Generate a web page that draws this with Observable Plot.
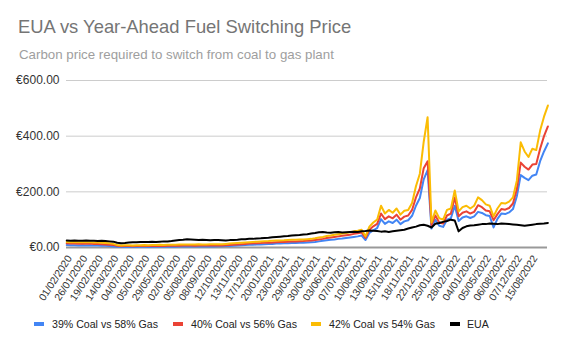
<!DOCTYPE html>
<html>
<head>
<meta charset="utf-8">
<script src="https://cdn.jsdelivr.net/npm/d3@7"></script>
<script src="https://cdn.jsdelivr.net/npm/@observablehq/plot@0.6"></script>
<style>
  html, body { margin: 0; padding: 0; background: #fff; }
  #wrap { position: relative; width: 565px; height: 349px; font-family: "Liberation Sans", Arial, sans-serif; overflow: hidden; }
  .title { position: absolute; left: 18px; top: 18px; font-size: 18.4px; line-height: 1; color: #757575; white-space: nowrap; }
  .subtitle { position: absolute; left: 19px; top: 48px; font-size: 13.3px; line-height: 1; color: #9e9e9e; white-space: nowrap; }
  #chart { position: absolute; left: 0; top: 60px; }
  .leg { position: absolute; top: 318px; font-size: 10.6px; line-height: 12px; color: #222; white-space: nowrap; }
  .sw { position: absolute; top: 322px; width: 10px; height: 4px; }
</style>
</head>
<body>
<div id="wrap">
  <div class="title">EUA vs Year-Ahead Fuel Switching Price</div>
  <div class="subtitle">Carbon price required to switch from coal to gas plant</div>
  <div id="chart"></div>
  <div id="legend"></div>
</div>
<script>
// Category tick labels (as shown on the axis)
const xLabels = ["01/02/2020","26/01/2020","19/02/2020","14/03/2020","04/07/2020","05/01/2020","29/05/2020","02/07/2020","05/08/2020","08/09/2020","12/10/2020","13/11/2020","17/12/2020","20/01/2021","23/02/2021","29/03/2021","30/04/2021","03/06/2021","07/07/2021","10/08/2021","13/09/2021","15/10/2021","18/11/2021","22/12/2021","25/01/2022","28/02/2022","04/01/2022","05/05/2022","06/08/2022","07/12/2022","15/08/2022"];

const seriesNames = ["39% Coal vs 58% Gas","40% Coal vs 56% Gas","42% Coal vs 54% Gas","EUA"];
const seriesColors = ["#4285f4","#ea4335","#fbbc04","#000000"];

// values, 4 observations per label interval
const coal39 = [
  9,8,8.5,7.5, 8,7.5,8,7, 7,6.5,6,5, 4,2.5,1.5,2, 2,1.5,2,2.5, 2.5,2,2.5,2.5, 3,2.5,3,3, 3,3.5,4,4,
  4,3.5,4,4, 4,4.5,4,4.5, 4.5,5,5.5,6, 7,8,9,9.5, 10,10.5,11,12, 12.5,13,14,14.5, 15,15.5,16,16.5, 17,17.5,18,19,
  20,22,24,26, 28,29,31,32, 34,36,38,40, 43,27,52,62, 70,102,85,94, 88,100,84,94, 98,114,150,178, 245,278,68,100,
  78,74,100,105, 150,95,108,112, 106,112,128,124, 116,113,72,103, 122,120,126,138, 184,260,250,242, 258,262,310,345,374
];
const coal40 = [
  15,14,14.5,13.5, 14,13.5,14,13, 13,12,11,10, 9,6,4.5,5, 5,4.5,5,5.5, 5.5,5,5.5,5.5, 6,5.5,6,6, 6,6.5,7,7,
  7,6.5,7,7, 7,7.5,7,7.5, 7.5,8,9,10, 11,12,13,14, 15,15.5,16,17, 17.5,18,19,19.5, 20,21,21.5,22, 22.5,23,24,25,
  27,29,31,34, 36,38,40,42, 44,46,49,51, 54,34,64,76, 85,122,102,112, 105,118,100,111, 115,135,180,212, 285,310,80,115,
  90,86,115,122, 180,112,125,130, 122,128,152,145, 133,130,98,120, 138,136,142,158, 210,305,290,280, 298,300,355,400,435
];
const coal42 = [
  20,19,19.5,18.5, 19,18.5,19,18, 18,17,16,15, 13,9,7,8, 8,7.5,8,8.5, 9,8.5,9,9, 9.5,9,10,10, 10,10.5,11,11,
  11,10.5,11.5,11, 11,12,11.5,12, 12,13,14,15, 16,17,18,19, 20,21,22,22.5, 23,24,25,25.5, 26,27,27.5,28, 28.5,29,30,31,
  33,36,38,41, 43,46,48,50, 52,55,58,60, 64,40,75,90, 100,150,122,135, 125,140,118,132, 135,160,220,265, 380,468,90,133,
  105,100,135,140, 205,130,145,150, 140,150,180,170, 155,150,112,140, 160,158,165,180, 240,378,345,325, 355,350,420,470,510
];
const eua = [
  25,24.5,25,24, 24.5,25,24,24.5, 23.5,24,23,22, 21,17,15.5,16.5, 18,19,18.5,20, 20,19.5,20.5,20, 21,22,21.5,23, 25,27,28,30,
  29,28,27,28, 27,26,27,26.5, 26,25.5,26.5,27, 28,29.5,30,31, 31,32.5,33,34, 35,37,38,39, 40,41,43,44, 45,47,48,50,
  52,55,56,54, 53,55,56,54, 55,56,57,56, 58,59,61,60, 59,57,58,56, 58,60,62,64, 68,72,75,80, 82,78,72,85,
  88,92,95,100, 97,58,70,76, 79,80,82,84, 84,86,85,84, 86,85,84,83, 82,80,78,80, 82,84,85,86,88
];
const yTicks = [0, 200, 400, 600];

const allSeries = [coal39, coal40, coal42, eua];
const pos = (i) => -0.375 + i * 0.25; // category position of observation i

const rows = [];
allSeries.forEach((arr, s) => arr.forEach((v, i) => rows.push({x: pos(i), y: v, s: seriesNames[s]})));

const chart = Plot.plot({
  width: 565,
  height: 255,
  marginLeft: 66,
  marginRight: 18,
  marginTop: 20,
  marginBottom: 68,
  style: {fontFamily: "'Liberation Sans', Arial, sans-serif", background: "transparent"},
  x: {domain: [-0.39, 30.6]},
  y: {domain: [0, 600]},
  color: {domain: seriesNames, range: seriesColors},
  marks: [
    Plot.ruleY(yTicks.slice(1), {stroke: "#cccccc", strokeWidth: 1}),
    Plot.ruleY([0], {stroke: "#999999", strokeWidth: 2}),
    Plot.line(rows, {x: "x", y: "y", z: "s", stroke: "s", strokeWidth: 2, curve: "linear"}),
    Plot.axisY({ticks: yTicks, tickFormat: d => "€" + d.toFixed(2), tickSize: 0, tickPadding: 7, fontSize: 12, fill: "#333", label: null}),
    Plot.axisX({ticks: d3.range(xLabels.length), tickFormat: i => xLabels[i], tickRotate: -57, tickSize: 0, tickPadding: 9, dx: -3, fontSize: 10.3, fill: "#333", label: null})
  ]
});
document.getElementById("chart").appendChild(chart);

// legend
const legX = [[34, 52], [173, 191], [311, 329], [450, 467]];
const leg = document.getElementById("legend");
seriesNames.forEach((n, i) => {
  const sw = document.createElement("div");
  sw.className = "sw"; sw.style.left = legX[i][0] + "px"; sw.style.background = seriesColors[i];
  const t = document.createElement("div");
  t.className = "leg"; t.style.left = legX[i][1] + "px"; t.textContent = n;
  leg.appendChild(sw); leg.appendChild(t);
});
</script>
</body>
</html>
